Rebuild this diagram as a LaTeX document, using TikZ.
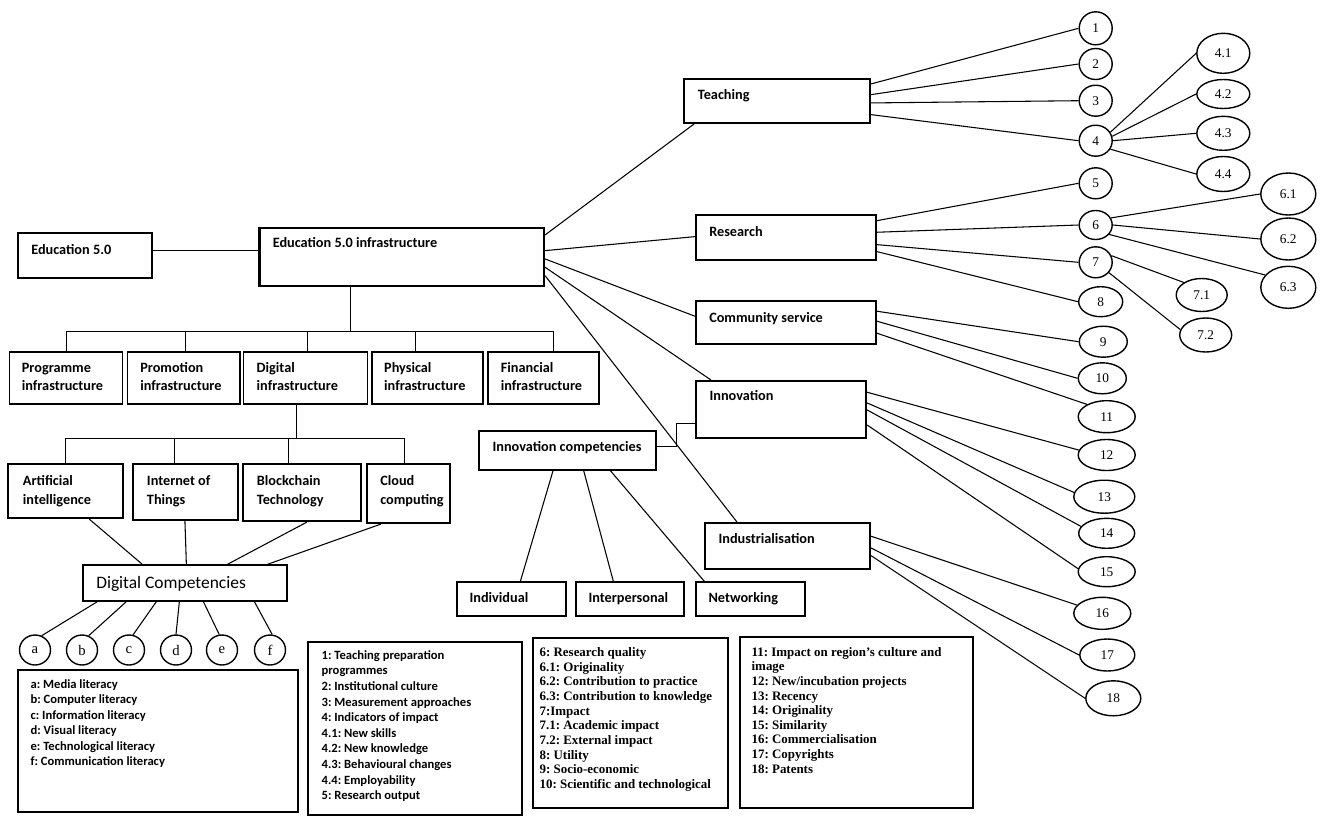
\documentclass[tikz,border=0pt]{standalone}
\usepackage{fontspec}
\setmainfont{Carlito}
\newfontfamily\tms{Liberation Serif}
\usetikzlibrary{shapes.geometric,fit,calc}
\newdimen\pxu \pxu=0.75pt
\frenchspacing
\tikzset{
  thickbox/.style={draw, line width=1.6pt, inner sep=0pt},
  thinbox/.style={draw, line width=0.95pt, inner sep=0pt},
  conn/.style={line width=0.8pt},
  bt/.style={font=\fontsize{10.7}{13}\selectfont\bfseries, inner sep=0pt, anchor=base west},
  dct/.style={font=\fontsize{13.1}{15}\selectfont, inner sep=0pt, anchor=base west},
  lc/.style={font=\fontsize{9.45}{11}\selectfont\bfseries, inner sep=0pt, anchor=base west},
  lt/.style={font=\tms\fontsize{9.7}{11}\selectfont\bfseries, inner sep=0pt, anchor=base west},
  ell/.style 2 args={ellipse, draw, line width=1.05pt, inner sep=0pt, minimum width=#1\pxu, minimum height=#2\pxu, font=\tms\fontsize{10}{11}\selectfont},
  letter/.style={font=\tms\fontsize{11}{12}\selectfont},
}
\begin{document}
\begin{tikzpicture}[x=0.75pt,y=-0.75pt]
\fill[white] (0,0) rectangle (1325,822);
\useasboundingbox (0,0) rectangle (1325,822);

% ---------- boxes ----------
\node[thickbox, fit={(18,233) (152,278)}] (edu) {};
\node[thickbox, fit={(259.5,228) (544,286)}] (infra) {};
\node[thinbox, fit={(9.6,352) (122.5,404)}] (prog) {};
\node[thinbox, fit={(127.4,352) (240,404)}] (prom) {};
\node[thinbox, fit={(243.8,352) (367.4,404)}] (digi) {};
\node[thinbox, fit={(372,352) (483,404)}] (phys) {};
\node[thinbox, fit={(488,352) (599,404)}] (fin) {};
\node[thickbox, fit={(8.3,464) (123,518)}] (ai) {};
\node[thickbox, fit={(133,464) (238,520)}] (iot) {};
\node[thickbox, fit={(243,464) (361,521)}] (bc) {};
\node[thickbox, fit={(367,464) (450,523)}] (cloud) {};
\node[thinbox, fit={(83,565) (287,601)}] (dc) {};
\node[thickbox, fit={(684,79) (870,123)}] (teach) {};
\node[thickbox, fit={(696,215) (876,260)}] (res) {};
\node[thickbox, fit={(696,301) (876,344)}] (comm) {};
\node[thickbox, fit={(696,381) (866,438)}] (innov) {};
\node[thickbox, fit={(705,523) (870,569)}] (indus) {};
\node[thinbox, fit={(479,431) (656,470)}] (icomp) {};
\node[thinbox, fit={(457,582) (566,616)}] (indiv) {};
\node[thinbox, fit={(576,582) (684,616)}] (inter) {};
\node[thinbox, fit={(696,582) (805,616)}] (netw) {};
\node[thinbox, fit={(18,670) (298,812)}] (leg1) {};
\node[thinbox, fit={(308,642) (522,815)}] (leg2) {};
\node[thinbox, fit={(533,638) (728,808)}] (leg3) {};
\node[thinbox, fit={(740,637) (973,808)}] (leg4) {};

% ---------- box texts ----------
\node[bt] (edu-t) at (31,254.5) {Education 5.0};
\node[bt] (infra-t) at (272.5,247.5) {Education 5.0 infrastructure};
\node[bt] (prog-t1) at (21.6,372.5) {Programme};
\node[bt] (prog-t2) at (21.6,390.5) {infrastructure};
\node[bt] (prom-t1) at (140,372.5) {Promotion};
\node[bt] (prom-t2) at (140,390.5) {infrastructure};
\node[bt] (digi-t1) at (256.4,372.5) {Digital};
\node[bt] (digi-t2) at (256.4,390.5) {infrastructure};
\node[bt] (phys-t1) at (383.9,372.5) {Physical};
\node[bt] (phys-t2) at (383.9,390.5) {infrastructure};
\node[bt] (fin-t1) at (500.6,372.5) {Financial};
\node[bt] (fin-t2) at (500.6,390.5) {infrastructure};
\node[bt] (ai-t1) at (22.7,485.5) {Artificial};
\node[bt] (ai-t2) at (22.7,504.5) {intelligence};
\node[bt] (iot-t1) at (146.7,485.5) {Internet of};
\node[bt] (iot-t2) at (146.7,504.5) {Things};
\node[bt] (bc-t1) at (256.7,485.5) {Blockchain};
\node[bt] (bc-t2) at (256.7,504.5) {Technology};
\node[bt] (cloud-t1) at (380,485.5) {Cloud};
\node[bt] (cloud-t2) at (380,504.5) {computing};
\node[dct] (dc-t) at (96,588.6) {Digital Competencies};
\node[bt] (teach-t) at (697.7,99.5) {Teaching};
\node[bt] (res-t) at (709,236.2) {Research};
\node[bt] (comm-t) at (709,322) {Community service};
\node[bt] (innov-t) at (709.3,400.5) {Innovation};
\node[bt] (indus-t) at (718.3,543) {Industrialisation};
\node[bt] (icomp-t) at (492.3,451) {Innovation competencies};
\node[bt] (indiv-t) at (469.3,602) {Individual};
\node[bt] (inter-t) at (588.3,602) {Interpersonal};
\node[bt] (netw-t) at (708.3,602) {Networking};

% ---------- legends ----------
\foreach \t [count=\k from 0] in {a: Media literacy, b: Computer literacy, c: Information literacy, d: Visual literacy, e: Technological literacy, f: Communication literacy}
  \node[lc] (la\k) at ($(leg1.north west)+(13,{19+15.5*\k})$) {\t};
\foreach \t [count=\k from 0] in {1: Teaching preparation, programmes, 2: Institutional culture, 3: Measurement approaches, 4: Indicators of impact, 4.1: New skills, 4.2: New knowledge, 4.3: Behavioural changes, 4.4: Employability, 5: Research output}
  \node[lc] (lb\k) at ($(leg2.north west)+(14,{18+15.6*\k})$) {\t};
\foreach \t [count=\k from 0] in {6: Research quality, 6.1: Originality, 6.2: Contribution to practice, 6.3: Contribution to knowledge, 7:Impact, 7.1: Academic impact, 7.2: External impact, 8: Utility, 9: Socio-economic, 10: Scientific and technological}
  \node[lt] (lcc\k) at ($(leg3.north west)+(7,{19+14.7*\k})$) {\t};
\foreach \t [count=\k from 0] in {11: Impact on region’s culture and, image, 12: New/incubation projects, 13: Recency, 14: Originality, 15: Similarity, 16: Commercialisation, 17: Copyrights, 18: Patents}
  \node[lt] (ld\k) at ($(leg4.north west)+(12,{20+14.6*\k})$) {\t};

% ---------- ellipses ----------
\node[ell={33}{33}] (e1) at (1095.7,28.3) {1};
\node[ell={33}{31}] (e2) at (1095.7,64) {2};
\node[ell={33}{31}] (e3) at (1095.7,100.7) {3};
\node[ell={33}{31}] (e4) at (1095.7,140.7) {4};
\node[ell={33}{31}] (e5) at (1095.7,183.3) {5};
\node[ell={33}{29}] (e6) at (1095.7,225) {6};
\node[ell={33}{31}] (e7) at (1095.7,262.3) {7};
\node[ell={44}{30}] (e8) at (1100.7,301.7) {8};
\node[ell={48}{31}] (e9) at (1103.3,341.7) {9};
\node[ell={48}{31}] (e10) at (1102.3,378.3) {10};
\node[ell={57}{32}] (e11) at (1106.7,416.7) {11};
\node[ell={57}{31}] (e12) at (1106.7,455) {12};
\node[ell={61}{33}] (e13) at (1104.3,496.7) {13};
\node[ell={56}{30}] (e14) at (1106.7,533.3) {14};
\node[ell={57}{30}] (e15) at (1106.7,571.7) {15};
\node[ell={57}{32}] (e16) at (1102.3,613.3) {16};
\node[ell={55}{32}] (e17) at (1107.3,655) {17};
\node[ell={55}{35}] (e18) at (1113.3,698.3) {18};
\node[ell={53}{40}] (e41) at (1223.3,53.3) {4.1};
\node[ell={53}{29}] (e42) at (1223.3,94) {4.2};
\node[ell={53}{34}] (e43) at (1223.3,133.3) {4.3};
\node[ell={53}{35}] (e44) at (1223.3,174) {4.4};
\node[ell={55}{42}] (e61) at (1288.3,194) {6.1};
\node[ell={55}{42}] (e62) at (1288.3,239) {6.2};
\node[ell={55}{42}] (e63) at (1288.3,287.3) {6.3};
\node[ell={51}{33}] (e71) at (1201.7,295) {7.1};
\node[ell={52}{34}] (e72) at (1205.7,335) {7.2};
\node[ell={31}{30}, letter] (ca) at (35,650) {a};
\node[ell={31}{30}, letter] (cb) at (82,650) {b};
\node[ell={31}{30}, letter] (cc) at (129,650) {c};
\node[ell={31}{30}, letter] (cd) at (176,650) {d};
\node[ell={31}{30}, letter] (ce) at (222,650) {e};
\node[ell={31}{30}, letter] (cf) at (270,650) {f};

% ---------- connectors ----------
\draw[conn] ($(edu.north east)+(0,19)$) -- ($(infra.north west)+(0,24)$);
\coordinate (ij) at ($(infra.south west)+(92.5,0)$);
\coordinate (bar) at ($(infra.south west)+(92.5,44)$);
\draw[conn] (ij) -- (bar);
\draw[conn] ($(prog.north west)+(57.4,0)$) |- (bar);
\draw[conn] ($(prom.north west)+(58.6,0)$) |- (bar);
\draw[conn] ($(digi.north west)+(64,0)$) |- (bar);
\draw[conn] ($(phys.north west)+(44,0)$) |- (bar);
\draw[conn] ($(fin.north west)+(66,0)$) |- (bar);

\coordinate (dj) at ($(digi.south west)+(53,0)$);
\coordinate (dbar) at ($(digi.south west)+(53,34)$);
\draw[conn] (dj) -- (dbar);
\draw[conn] ($(ai.north west)+(58.4,0)$) |- (dbar);
\draw[conn] ($(iot.north west)+(43,0)$) |- (dbar);
\draw[conn] ($(bc.north west)+(47,0)$) |- (dbar);
\draw[conn] ($(cloud.north west)+(39,0)$) |- (dbar);

\draw[conn] ($(ai.south west)+(82,0)$) -- ($(dc.north west)+(60,0)$);
\draw[conn] ($(iot.south west)+(53,0)$) -- ($(dc.north west)+(104,0)$);
\draw[conn] ($(bc.south west)+(65,0)$) -- ($(dc.north west)+(145,0)$);
\draw[conn] ($(cloud.south west)+(15,0)$) -- ($(dc.north west)+(185,0)$);
\foreach \o/\e in {15/ca.65, 44/cb.65, 74/cc.75, 97/cd.north, 121/ce.100, 172/cf.82}
  \draw[conn] ($(dc.south west)+(\o,0)$) -- (\e);

\draw[conn] ($(infra.north east)+(0,8)$) -- ($(teach.south west)+(11,0)$);
\draw[conn] ($(infra.north east)+(0,23.7)$) -- ($(res.north west)+(0,22.7)$);
\draw[conn] ($(infra.north east)+(0,32)$) -- ($(comm.north west)+(0,16.3)$);
\draw[conn] ($(infra.north east)+(0,40.3)$) -- ($(innov.north west)+(16,0)$);
\draw[conn] ($(infra.north east)+(0,48.7)$) -- ($(indus.north west)+(33,0)$);

\foreach \o/\e in {6/e1.west, 16.7/e2.west, 25/e3.west, 36.7/e4.west}
  \draw[conn] ($(teach.north east)+(0,\o)$) -- (\e);
\draw[conn] (e4.30) -- (e41.west);
\draw[conn] (e4.15) -- (e42.west);
\draw[conn] (e4.east) -- (e43.west);
\draw[conn] (e4.-30) -- (e44.west);
\foreach \o/\e in {6.7/e5.west, 18.3/e6.west, 30.7/e7.west, 37.7/e8.west}
  \draw[conn] ($(res.north east)+(0,\o)$) -- (\e);
\draw[conn] (e6.25) -- (e61.west);
\draw[conn] (e6.east) -- (e62.west);
\draw[conn] (e6.-35) -- (e63.152);
\draw[conn] (e7.23) -- (e71.145);
\draw[conn] (e7.-38) -- (e72.168);
\foreach \o/\e in {11.3/e9.west, 21.3/e10.west, 33.3/e11.148}
  \draw[conn] ($(comm.north east)+(0,\o)$) -- (\e);
\foreach \o/\e in {12.3/e12.170, 23/e13.172, 30/e14.165, 45/e15.174}
  \draw[conn] ($(innov.north east)+(0,\o)$) -- (\e);
\foreach \o/\e in {14.3/e16.162, 26/e17.west, 33.7/e18.west}
  \draw[conn] ($(indus.north east)+(0,\o)$) -- (\e);

\coordinate (icj) at ($(icomp.north east)+(20,16)$);
\draw[conn] ($(icomp.north east)+(0,16)$) -- (icj) |- ($(innov.north west)+(0,44)$);
\draw[conn] ($(icomp.south west)+(74.7,0)$) -- ($(indiv.north west)+(64,0)$);
\draw[conn] ($(icomp.south west)+(105.3,0)$) -- ($(inter.north west)+(38,0)$);
\draw[conn] ($(icomp.south west)+(132,0)$) -- ($(netw.north west)+(9,0)$);
\end{tikzpicture}
\end{document}
